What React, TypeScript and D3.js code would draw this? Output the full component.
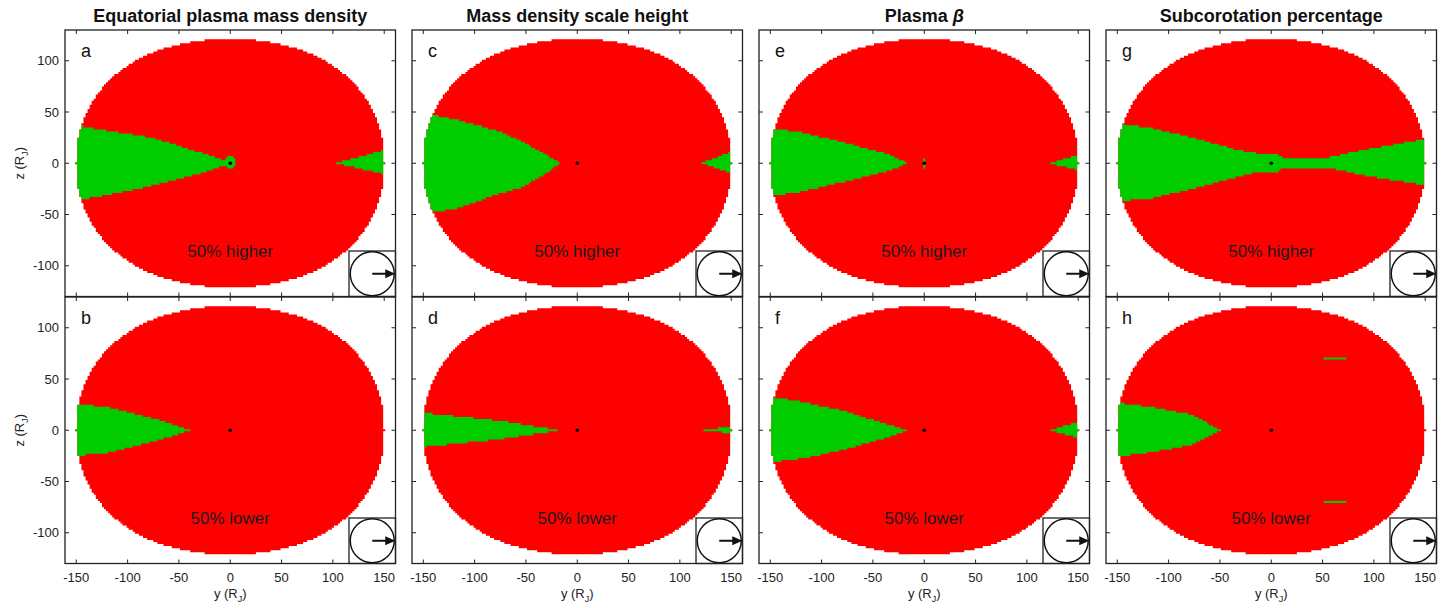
import React from 'react';
import * as d3 from 'd3';

// column titles, panel letters, captions
const titles = ['Equatorial plasma mass density', 'Mass density scale height', 'Plasma ', 'Subcorotation percentage'];
const letters = [['a', 'b'], ['c', 'd'], ['e', 'f'], ['g', 'h']];
const captions = ['50% higher', '50% lower'];
const xTicks = [-150, -100, -50, 0, 50, 100, 150];
const yTicks = [-100, -50, 0, 50, 100];

// model domain: slightly squared ellipse, 2 R_J grid
const halfWidth = 150;
const halfHeight = 121;
const shapePower = 2.2;
const cell = 2;

type Pt = [number, number];

// green regions ([y, z] in R_J) for each panel
const greenA: Pt[][] = [
  [[-160, 38], [-149, 37], [-119, 31.5], [-76, 25], [-34, 12], [-8, 3.5], [-4.5, 2], [-4.5, -2], [-8, -3], [-34, -11.4], [-76, -22], [-119, -30.8], [-149, -36], [-160, -37]],
  [[-3, 7.5], [3, 7.5], [4.5, 4], [4.5, -3], [3, -5.5], [-3, -5.5], [-4.5, -3], [-4.5, 4]],
  [[104, 0.5], [151, 13], [160, 13], [160, -11], [151, -10.7], [104, -0.5]],
];
const greenB: Pt[][] = [
  [[-160, 27], [-149, 26], [-119, 22.4], [-76, 12], [-39.4, 0.5], [-39.4, -0.5], [-76, -11.4], [-119, -22], [-149, -24.7], [-160, -25.5]],
];
const greenC: Pt[][] = [
  [[-160, 50], [-149, 49], [-119, 43], [-77, 31.5], [-55, 22], [-34, 10.4], [-17.4, 0.5], [-17.4, -0.5], [-34, -12.3], [-55, -24], [-77, -30], [-119, -45], [-149, -48], [-160, -49]],
  [[122, 0.5], [151, 11.4], [160, 11.4], [160, -10], [151, -9.7], [122, -0.5]],
];
const greenD: Pt[][] = [
  [[-160, 17.5], [-149, 16.9], [-77, 9.4], [-19.5, 0.5], [-19.5, -0.5], [-77, -9], [-149, -16.2], [-160, -17]],
  [[124, 1.2], [135, 1.5], [151, 4.5], [160, 4.5], [160, -3.6], [151, -3.6], [135, -1.2], [124, -1.2]],
];
const greenE: Pt[][] = [
  [[-160, 35], [-148, 34], [-119, 30], [-77, 20], [-35, 8.8], [-16.5, 0.5], [-16.5, -0.5], [-35, -7.5], [-77, -17.9], [-119, -27.6], [-148, -32], [-160, -33]],
  [[-1.5, 5.5], [1.5, 5.5], [1.5, -4.5], [-1.5, -4.5]],
  [[122.5, 0.5], [151, 8], [160, 8], [160, -7], [151, -6.8], [122.5, -0.5]],
];
const greenF: Pt[][] = [
  [[-160, 33], [-148, 32.5], [-119, 27.6], [-77, 18.5], [-35, 5.5], [-16.5, 0.5], [-16.5, -0.5], [-35, -6.8], [-77, -18.8], [-119, -27.6], [-148, -31], [-160, -32]],
  [[122.5, 0.5], [151, 8.1], [160, 8.1], [160, -7.5], [151, -7.5], [122.5, -0.5]],
];
const greenG: Pt[][] = [
  [[-160, 40], [-148, 38.6], [-119, 34.7], [-77, 25], [-35, 13.6], [-14, 9.7], [5, 9.7], [12, 5.5], [55, 5.5], [92, 13.6], [150, 23.4], [160, 25],
   [160, -23], [150, -21.4], [92, -12.3], [55, -4.2], [12, -4.2], [5, -9], [-14, -9], [-35, -14], [-77, -25], [-119, -35], [-148, -36.7], [-160, -38]],
];
const greenH: Pt[][] = [
  [[-160, 27], [-148, 26.6], [-121, 23.4], [-78, 15.3], [-49.6, 0.5], [-49.6, -0.5], [-78, -14.6], [-121, -22], [-148, -25.3], [-160, -26]],
  [[51, 71], [73, 71], [73, 69], [51, 69]],
  [[51, -69], [73, -69], [73, -71], [51, -71]],
];
const greens = [[greenA, greenB], [greenC, greenD], [greenE, greenF], [greenG, greenH]];

const colLeft = [65, 412, 759, 1106];
const rowTop = [30, 297];
const panelW = 330.5;
const panelH = 266.5;

function inDomain(y: number, z: number) {
  return Math.abs(y / halfWidth) ** shapePower + Math.abs(z / halfHeight) ** shapePower <= 1.0001;
}

function buildPaths(regions: Pt[][], xs: d3.ScaleLinear<number, number>, ys: d3.ScaleLinear<number, number>) {
  let red = '';
  let green = '';
  const h = cell / 2;
  const rect = (a: number, b: number, z: number) =>
    `M${xs(a - h)},${ys(z + h)}H${xs(b + h)}V${ys(z - h)}H${xs(a - h)}Z`;
  for (let z = -120; z <= 120; z += cell) {
    let rs: number | null = null;
    let gs: number | null = null;
    let prev = 0;
    for (let y = -150; y <= 150 + cell; y += cell) {
      const inside = y <= 150 && inDomain(y, z);
      const isG = inside && regions.some(p => d3.polygonContains(p, [y, z]));
      if (inside && rs === null) rs = y;
      if (!inside && rs !== null) { red += rect(rs, prev, z); rs = null; }
      if (isG && gs === null) gs = y;
      if (!isG && gs !== null) { green += rect(gs, prev, z); gs = null; }
      prev = y;
    }
  }
  return { red, green };
}

function Panel({ col, row }: { col: number; row: number }) {
  const x0 = colLeft[col];
  const y0 = rowTop[row];
  const xs = d3.scaleLinear().domain([-161, 161]).range([x0, x0 + panelW]);
  const ys = d3.scaleLinear().domain([-130, 130]).range([y0 + panelH, y0]);
  const { red, green } = buildPaths(greens[col][row], xs, ys);
  const tl = 4;
  const bx = x0 + panelW - 46.5;
  const by = y0 + panelH - 45.5;
  const cx = bx + 23.25;
  const cy = by + 22.75;
  return (
    <g>
      <path d={red} fill="#ff0000" />
      <path d={green} fill="#00cc00" />
      <circle cx={xs(0)} cy={ys(0)} r={1.8} fill="#000" />
      {xTicks.map(t => (
        <g key={'x' + t} stroke="#222" strokeWidth={1}>
          <line x1={xs(t)} x2={xs(t)} y1={y0 + panelH} y2={y0 + panelH - tl} />
          <line x1={xs(t)} x2={xs(t)} y1={y0} y2={y0 + tl} />
        </g>
      ))}
      {yTicks.map(t => (
        <g key={'y' + t} stroke="#222" strokeWidth={1}>
          <line x1={x0} x2={x0 + tl} y1={ys(t)} y2={ys(t)} />
          <line x1={x0 + panelW} x2={x0 + panelW - tl} y1={ys(t)} y2={ys(t)} />
        </g>
      ))}
      {/* orientation inset */}
      <rect x={bx} y={by} width={46.5} height={45.5} fill="#fff" stroke="#222" strokeWidth={1.3} />
      <circle cx={cx} cy={cy} r={22} fill="none" stroke="#111" strokeWidth={1.5} />
      <line x1={cx} y1={cy} x2={cx + 15} y2={cy} stroke="#111" strokeWidth={2} />
      <path d={`M${cx + 23},${cy}L${cx + 13},${cy - 4.5}L${cx + 13},${cy + 4.5}Z`} fill="#111" />
      <rect x={x0} y={y0} width={panelW} height={panelH} fill="none" stroke="#222" strokeWidth={1.3} />
      <text x={x0 + 16} y={y0 + 27} fontSize={18} fill="#111">{letters[col][row]}</text>
      <text x={x0 + panelW / 2} y={y0 + panelH - 40} fontSize={17} fill="#1a1a1a" textAnchor="middle">{captions[row]}</text>
      {col === 0 && yTicks.map(t => (
        <text key={'yl' + t} x={x0 - 6} y={ys(t) + 4.5} fontSize={13} fill="#222" textAnchor="end">{t}</text>
      ))}
      {row === 1 && xTicks.map(t => (
        <text key={'xl' + t} x={xs(t)} y={y0 + panelH + 18} fontSize={13} fill="#222" textAnchor="middle">{t}</text>
      ))}
      {row === 1 && (
        <text x={xs(0)} y={y0 + panelH + 34} fontSize={13} fill="#222" textAnchor="middle">
          y (R<tspan fontSize={9} dy={4}>J</tspan><tspan dy={-4}>)</tspan>
        </text>
      )}
      {col === 0 && (
        <text transform={`translate(${x0 - 41},${ys(0)}) rotate(-90)`} fontSize={13} fill="#222" textAnchor="middle">
          z (R<tspan fontSize={9} dy={4}>J</tspan><tspan dy={-4}>)</tspan>
        </text>
      )}
    </g>
  );
}

export default function App() {
  return (
    <svg width={1450} height={608} style={{ position: 'absolute', left: 0, top: 0, background: '#fff' }}
      fontFamily="'Liberation Sans', Arial, sans-serif">
      <rect width={1450} height={608} fill="#fff" />
      {titles.map((t, c) => (
        <text key={t} x={colLeft[c] + panelW / 2} y={22} fontSize={18} fontWeight="bold" fill="#111" textAnchor="middle">
          {t}{c === 2 && <tspan fontStyle="italic">β</tspan>}
        </text>
      ))}
      {[0, 1, 2, 3].map(c => [0, 1].map(r => <Panel key={c + '-' + r} col={c} row={r} />))}
    </svg>
  );
}
